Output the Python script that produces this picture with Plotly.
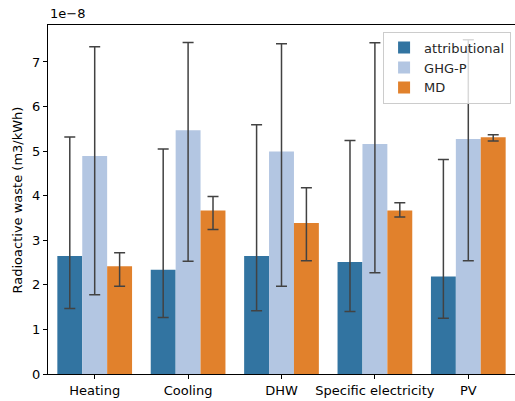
import plotly.graph_objects as go

# values in units of 1e-8 m3/kWh
categories = ["Heating", "Cooling", "DHW", "Specific electricity", "PV"]
series = ["attributional", "GHG-P", "MD"]
attributional = [2.65, 2.34, 2.65, 2.51, 2.19]
attributional_lo = [1.47, 1.27, 1.42, 1.40, 1.25]
attributional_hi = [5.32, 5.05, 5.59, 5.24, 4.81]
ghgp = [4.89, 5.47, 4.99, 5.16, 5.27]
ghgp_lo = [1.78, 2.53, 1.97, 2.27, 2.54]
ghgp_hi = [7.34, 7.44, 7.41, 7.43, 7.50]
md = [2.42, 3.67, 3.39, 3.67, 5.31]
md_lo = [1.97, 3.24, 2.54, 3.52, 5.23]
md_hi = [2.72, 3.98, 4.18, 3.84, 5.37]
colors = ["#3274a1", "#b3c6e2", "#e1812c"]
yticks = [0, 1, 2, 3, 4, 5, 6, 7]

FONT = "DejaVu Sans"
fig = go.Figure()
for name, v, lo, hi, c in zip(series, [attributional, ghgp, md],
                              [attributional_lo, ghgp_lo, md_lo],
                              [attributional_hi, ghgp_hi, md_hi], colors):
    fig.add_trace(go.Bar(
        x=categories, y=v, name=name,
        marker=dict(color=c, line=dict(width=0)),
        error_y=dict(type="data", symmetric=False,
                     array=[h - a for h, a in zip(hi, v)],
                     arrayminus=[a - l for a, l in zip(v, lo)],
                     color="#424242", thickness=1.5, width=5.5),
    ))

fig.update_layout(
    width=515, height=401,
    margin=dict(l=48, r=0, t=25, b=27, autoexpand=False),
    plot_bgcolor="white", paper_bgcolor="white",
    barmode="group", bargap=0.2, bargroupgap=0,
    font=dict(family=FONT, size=13, color="#262626"),
    legend=dict(x=0.7175, y=0.981, xanchor="left", yanchor="top",
                bgcolor="rgba(255,255,255,0.8)", bordercolor="#cccccc",
                borderwidth=1, font=dict(size=13, color="#262626"),
                tracegroupgap=0, itemwidth=30),
    showlegend=True,
    xaxis=dict(range=[-0.5, 4.5], showline=True, linecolor="black", linewidth=1,
               mirror=True, ticks="outside", ticklen=4, tickcolor="black",
               showgrid=False, automargin=False,
               tickfont=dict(size=13, color="black")),
    yaxis=dict(range=[0, 7.83], tickvals=yticks, ticktext=[str(t) for t in yticks],
               showline=True, linecolor="black", linewidth=1,
               ticks="outside", ticklen=4, tickcolor="black", showgrid=False,
               zeroline=False, automargin=False,
               tickfont=dict(size=13, color="black")),
    annotations=[
        dict(text="1e\u22128", xref="paper", yref="paper", x=0, y=1.0,
             xanchor="left", yanchor="bottom", yshift=2, showarrow=False,
             font=dict(size=13, color="black")),
        dict(text="Radioactive waste (m3/kWh)", xref="paper", yref="paper",
             x=-30 / 466.5, y=0.5, xanchor="center", yanchor="middle",
             textangle=-90, showarrow=False, font=dict(size=13, color="black")),
    ],
)
fig.write_html("out.html", config={"displayModeBar": False},
               post_script="document.body.style.margin='0';document.body.style.overflow='hidden';")
